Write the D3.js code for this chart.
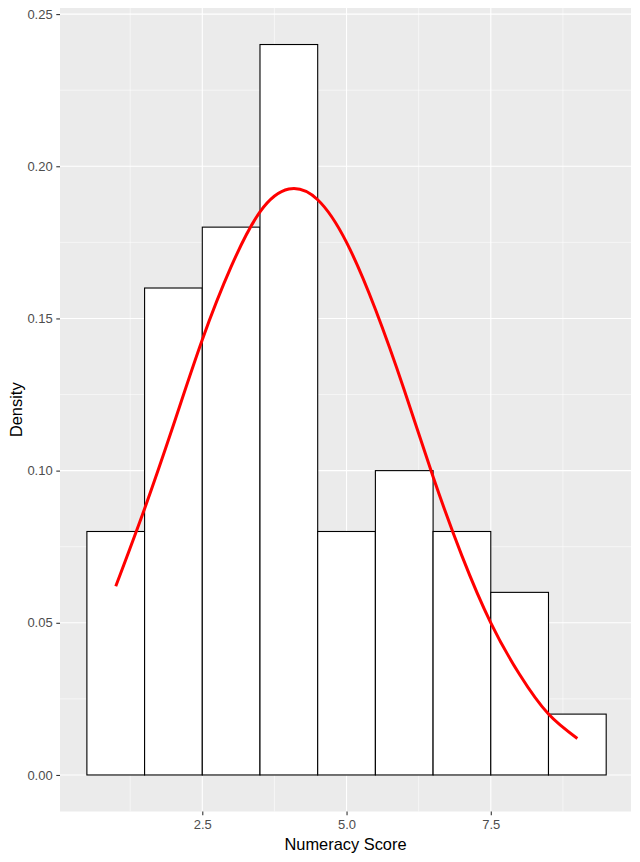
<!DOCTYPE html>
<html>
<head>
<meta charset="utf-8">
<script src="https://cdn.jsdelivr.net/npm/d3@7"></script>
<style>
  body { margin: 0; background: #fff; }
  svg { display: block; font-family: Arial, "Liberation Sans", sans-serif; }
</style>
</head>
<body>
<div id="container"></div>
<script>
var width = 640, height = 862;
var margin = {top: 8, right: 9, bottom: 50.5, left: 60};

// histogram bins (width 1, centred on the score)
var binCenters = [1, 2, 3, 4, 5, 6, 7, 8, 9];
var binDensity = [0.08, 0.16, 0.18, 0.24, 0.08, 0.10, 0.08, 0.06, 0.02];

// red density curve
var curveX = [1, 1.5, 2, 2.5, 3, 3.5, 4, 4.5, 5, 5.5, 6, 6.5, 7, 7.5, 8, 8.5, 9];
var curveY = [0.062, 0.0875, 0.115, 0.143, 0.167, 0.185, 0.1925, 0.189, 0.175, 0.153, 0.1265, 0.098, 0.072, 0.050, 0.033, 0.020, 0.012];

var xTicks = [2.5, 5.0, 7.5];
var yTicks = [0, 0.05, 0.10, 0.15, 0.20, 0.25];
var xMinor = [1.25, 3.75, 6.25, 8.75];
var yMinor = [0.025, 0.075, 0.125, 0.175, 0.225];

var pw = width - margin.left - margin.right,
    ph = height - margin.top - margin.bottom;

var x = d3.scaleLinear().domain([0.034, 9.93]).range([0, pw]);
var y = d3.scaleLinear().domain([-0.012, 0.252]).range([ph, 0]);

var svg = d3.select("#container").append("svg")
    .attr("width", width)
    .attr("height", height);

var g = svg.append("g")
    .attr("transform", "translate(" + margin.left + "," + margin.top + ")");

// panel background
g.append("rect")
    .attr("width", pw)
    .attr("height", ph)
    .attr("fill", "#EBEBEB");

// minor grid
g.selectAll(".xminor").data(xMinor).enter().append("line")
    .attr("x1", d => x(d)).attr("x2", d => x(d))
    .attr("y1", 0).attr("y2", ph)
    .attr("stroke", "#fff").attr("stroke-width", 0.55);
g.selectAll(".yminor").data(yMinor).enter().append("line")
    .attr("y1", d => y(d)).attr("y2", d => y(d))
    .attr("x1", 0).attr("x2", pw)
    .attr("stroke", "#fff").attr("stroke-width", 0.55);

// major grid
g.selectAll(".xmajor").data(xTicks).enter().append("line")
    .attr("x1", d => x(d)).attr("x2", d => x(d))
    .attr("y1", 0).attr("y2", ph)
    .attr("stroke", "#fff").attr("stroke-width", 1.1);
g.selectAll(".ymajor").data(yTicks).enter().append("line")
    .attr("y1", d => y(d)).attr("y2", d => y(d))
    .attr("x1", 0).attr("x2", pw)
    .attr("stroke", "#fff").attr("stroke-width", 1.1);

// bars
g.selectAll(".bar").data(binCenters).enter().append("rect")
    .attr("class", "bar")
    .attr("x", d => x(d - 0.5))
    .attr("width", d => x(d + 0.5) - x(d - 0.5))
    .attr("y", (d, i) => y(binDensity[i]))
    .attr("height", (d, i) => y(0) - y(binDensity[i]))
    .attr("fill", "#fff")
    .attr("stroke", "#000")
    .attr("stroke-width", 1.1);

// density curve
var line = d3.line()
    .x((d, i) => x(d))
    .y((d, i) => y(curveY[i]))
    .curve(d3.curveNatural);

g.append("path")
    .datum(curveX)
    .attr("d", line)
    .attr("fill", "none")
    .attr("stroke", "#FF0000")
    .attr("stroke-width", 3)
    .attr("stroke-linecap", "butt");

// axes
var xAxis = d3.axisBottom(x).tickValues(xTicks).tickFormat(d3.format(".1f")).tickSize(3.7).tickPadding(5);
var yAxis = d3.axisLeft(y).tickValues(yTicks).tickFormat(d3.format(".2f")).tickSize(3.7).tickPadding(3.6);

var gx = g.append("g").attr("transform", "translate(0," + ph + ")").call(xAxis);
var gy = g.append("g").call(yAxis);

[gx, gy].forEach(function (a) {
  a.select(".domain").remove();
  a.selectAll(".tick line").attr("stroke", "#333333").attr("stroke-width", 1.1);
  a.selectAll(".tick text").attr("fill", "#4D4D4D").style("font-size", "13px");
});

// axis titles
svg.append("text")
    .attr("x", margin.left + pw / 2)
    .attr("y", 850)
    .attr("text-anchor", "middle")
    .attr("fill", "#000")
    .style("font-size", "16.4px")
    .text("Numeracy Score");

svg.append("text")
    .attr("transform", "translate(22," + (margin.top + ph / 2) + ") rotate(-90)")
    .attr("text-anchor", "middle")
    .attr("fill", "#000")
    .style("font-size", "16.4px")
    .text("Density");
</script>
</body>
</html>
